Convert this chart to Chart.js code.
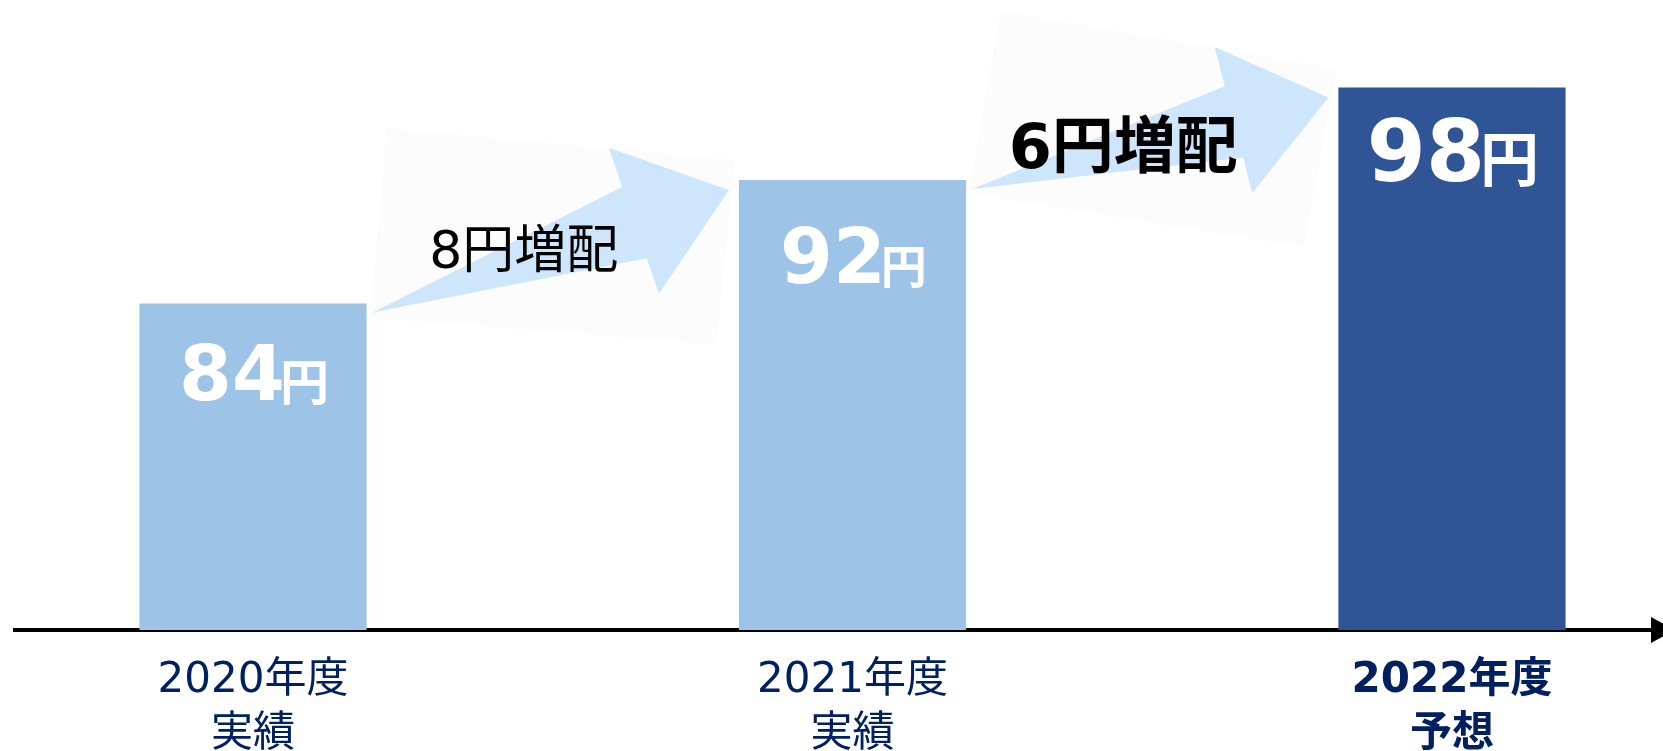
<!DOCTYPE html>
<html lang="ja">
<head>
<meta charset="utf-8">
<title>配当金の推移</title>
<script src="https://cdn.jsdelivr.net/npm/chart.js@4.4.1/dist/chart.umd.min.js"></script>
<style>
  html, body { margin: 0; padding: 0; background: #fff; }
  #wrap { width: 1663px; height: 751px; position: relative; }
</style>
</head>
<body>
<div id="wrap"><canvas id="divChart"></canvas></div>
<script>
const years = ['2020年度', '2021年度', '2022年度'];
const kinds = ['実績', '実績', '予想'];
const dividends = [84, 92, 98];
const unit = '円';

const barColors = ['#9dc3e6', '#9dc3e6', '#2f5597'];
const labelColor = '#002060';
const fontStack = '"DejaVu Sans", "Noto Sans CJK JP", sans-serif';
const cjkStack = '"Noto Sans CJK JP", sans-serif';

// value labels inside the bars: font sizes and baseline drop from bar top
const valueSizes = [76, 76, 85];
const unitSizes = [49, 46, 59];
const valueDrops = [96, 103, 94];
// the "x円増配" notes over the arrows
const stepSizes = [52, 62];
const stepWeights = ['normal', 'bold'];
const stepDrops = [17, 25];

// arrow + faint backing sheet, in (along, across) units of the tail->tip vector
const arrowShape = [[0, 0], [0.735, 0.10], [0.735, 0.21], [1, 0], [0.735, -0.20], [0.735, -0.10]];
const paperShape = [[-0.01, -0.01], [0.195, 0.45], [1.04, 0.07], [0.835, -0.377]];

function poly(g, pts, color) {
  g.beginPath();
  pts.forEach((p, i) => i ? g.lineTo(p[0], p[1]) : g.moveTo(p[0], p[1]));
  g.closePath();
  g.fillStyle = color;
  g.fill();
}

const decorations = {
  id: 'decorations',
  beforeDatasetsDraw(chart) {
    const g = chart.ctx;
    const bars = chart.getDatasetMeta(0).data;
    g.save();
    for (let i = 0; i < bars.length - 1; i++) {
      const a = bars[i], b = bars[i + 1];
      const tx = a.x + a.width / 2 + 6, ty = a.y + 9;
      const px = b.x - b.width / 2 - 10, py = b.y + 10;
      const dx = px - tx, dy = py - ty;
      const pt = ([u, v]) => [tx + u * dx + v * dy, ty + u * dy - v * dx];
      poly(g, paperShape.map(pt), '#fcfcfc');
      poly(g, arrowShape.map(pt), '#cde6fb');

      const diff = dividends[i + 1] - dividends[i];
      g.font = `${stepWeights[i]} ${stepSizes[i]}px ${fontStack}`;
      g.fillStyle = '#000';
      g.textAlign = 'center';
      g.textBaseline = 'alphabetic';
      g.fillText(diff + '円増配', (tx + px) / 2 - 27, (ty + py) / 2 + stepDrops[i]);
    }
    g.restore();
  },
  afterDatasetsDraw(chart) {
    const g = chart.ctx;
    const bars = chart.getDatasetMeta(0).data;
    g.save();
    g.fillStyle = '#fff';
    g.textAlign = 'left';
    g.textBaseline = 'alphabetic';
    bars.forEach((bar, i) => {
      const num = String(dividends[i]);
      g.font = `bold ${valueSizes[i]}px ${fontStack}`;
      const w1 = g.measureText(num).width - 5;
      g.font = `bold ${unitSizes[i]}px ${cjkStack}`;
      const w2 = g.measureText(unit).width;
      const x = bar.x + 1 - (w1 + w2) / 2;
      const y = bar.y + valueDrops[i];
      g.font = `bold ${valueSizes[i]}px ${fontStack}`;
      g.fillText(num, x, y);
      g.font = `bold ${unitSizes[i]}px ${cjkStack}`;
      g.fillText(unit, x + w1, y);
    });
    g.restore();
  },
  afterDraw(chart) {
    // arrow head on the end of the axis
    const g = chart.ctx;
    const r = chart.chartArea.right, y = chart.chartArea.bottom;
    g.save();
    g.beginPath();
    g.moveTo(r - 12, y - 13);
    g.lineTo(r + 12, y);
    g.lineTo(r - 12, y + 13);
    g.closePath();
    g.fillStyle = '#000';
    g.fill();
    g.restore();
  }
};

new Chart(document.getElementById('divChart'), {
  type: 'bar',
  data: {
    datasets: [{
      data: dividends.map((v, i) => ({ x: i, y: v })),
      backgroundColor: barColors,
      borderWidth: 0,
      categoryPercentage: 1,
      barPercentage: 0.379
    }]
  },
  options: {
    responsive: true,
    maintainAspectRatio: false,
    animation: false,
    layout: { padding: { left: 15, right: 0, top: 0, bottom: 0 } },
    plugins: {
      legend: { display: false },
      tooltip: { enabled: false }
    },
    scales: {
      x: {
        type: 'linear',
        offset: false,
        min: -0.397,
        max: 2.352,
        afterBuildTicks: s => { s.ticks = years.map((_, i) => ({ value: i })); },
        afterFit: s => { s.height = 121; },
        grid: { display: false, drawTicks: false, offset: false },
        border: { display: true, color: '#000', width: 4 },
        ticks: {
          padding: 24,
          color: labelColor,
          autoSkip: false,
          maxRotation: 0,
          font: (context) => ({ family: fontStack, size: 42, lineHeight: 1.29, weight: context.index === 2 ? 'bold' : 'normal' }),
          callback: (v, i) => [years[i], kinds[i]]
        }
      },
      y: { display: false, min: 62.84, max: 103.67 }
    }
  },
  plugins: [decorations]
});
</script>
</body>
</html>
